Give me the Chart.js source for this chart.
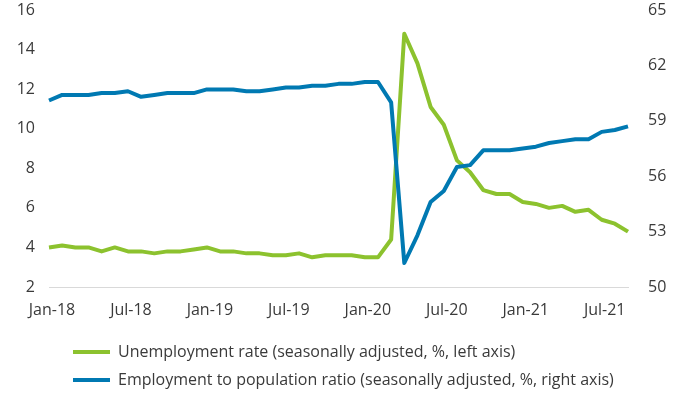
<!DOCTYPE html>
<html>
<head>
<meta charset="utf-8">
<script src="https://cdn.jsdelivr.net/npm/chart.js@4"></script>
<style>
html,body{margin:0;padding:0;background:#fff;}
#wrap{width:689px;height:393px;position:relative;}
</style>
</head>
<body>
<div id="wrap"><canvas id="c" width="689" height="393"></canvas></div>
<script>
const months = ['Jan-18','Feb-18','Mar-18','Apr-18','May-18','Jun-18','Jul-18','Aug-18','Sep-18','Oct-18','Nov-18','Dec-18',
  'Jan-19','Feb-19','Mar-19','Apr-19','May-19','Jun-19','Jul-19','Aug-19','Sep-19','Oct-19','Nov-19','Dec-19',
  'Jan-20','Feb-20','Mar-20','Apr-20','May-20','Jun-20','Jul-20','Aug-20','Sep-20','Oct-20','Nov-20','Dec-20',
  'Jan-21','Feb-21','Mar-21','Apr-21','May-21','Jun-21','Jul-21','Aug-21','Sep-21'];
const unemploymentRate = [4.0,4.1,4.0,4.0,3.8,4.0,3.8,3.8,3.7,3.8,3.8,3.9,
  4.0,3.8,3.8,3.7,3.7,3.6,3.6,3.7,3.5,3.6,3.6,3.6,
  3.5,3.5,4.4,14.8,13.3,11.1,10.2,8.4,7.8,6.9,6.7,6.7,
  6.3,6.2,6.0,6.1,5.8,5.9,5.4,5.2,4.8];
const employmentRatio = [60.1,60.4,60.4,60.4,60.5,60.5,60.6,60.3,60.4,60.5,60.5,60.5,
  60.7,60.7,60.7,60.6,60.6,60.7,60.8,60.8,60.9,60.9,61.0,61.0,
  61.1,61.1,60.0,51.3,52.8,54.6,55.2,56.5,56.6,57.4,57.4,57.4,
  57.5,57.6,57.8,57.9,58.0,58.0,58.4,58.5,58.7];
const xTickLabels = ['Jan-18','Jul-18','Jan-19','Jul-19','Jan-20','Jul-20','Jan-21','Jul-21'];
const leftTicks = [2,4,6,8,10,12,14,16];
const rightTicks = [50,53,56,59,62,65];
const seriesNames = ['Unemployment rate (seasonally adjusted, %, left axis)',
  'Employment to population ratio (seasonally adjusted, %, right axis)'];

const GREEN = '#8CC22E';
const BLUE = '#0079B2';
const TXT = '#3a3a3a';
const FONT = {family: 'Open Sans', size: 16};

const legendShift = {
  id: 'legendShift',
  afterLayout(chart) {
    const lg = chart.legend;
    if (!lg) return;
    const w = lg.right - lg.left;
    lg.left = 61; lg.right = 61 + w;
    const h = lg.bottom - lg.top;
    lg.top = 332; lg.bottom = 332 + h;
  }
};

function fixPad(s) { s.paddingTop = 10; s.paddingBottom = 0; }

new Chart(document.getElementById('c'), {
  type: 'line',
  data: {
    labels: months,
    datasets: [
      {label: seriesNames[0], data: unemploymentRate, yAxisID: 'yL', borderColor: GREEN, backgroundColor: GREEN,
       borderWidth: 4, pointRadius: 0, tension: 0, order: 1, borderCapStyle: 'butt', borderJoinStyle: 'round'},
      {label: seriesNames[1], data: employmentRatio, yAxisID: 'yR', borderColor: BLUE, backgroundColor: BLUE,
       borderWidth: 4, pointRadius: 0, tension: 0, order: 0, borderCapStyle: 'butt', borderJoinStyle: 'round'}
    ]
  },
  options: {
    responsive: false,
    animation: false,
    devicePixelRatio: 1,
    layout: {padding: {top: 0, left: 0, right: 0, bottom: 0}},
    plugins: {
      legend: {
        position: 'bottom',
        align: 'start',
        labels: {
          font: FONT, color: TXT, padding: 12,
          usePointStyle: true, pointStyle: 'line', pointStyleWidth: 37, boxHeight: 4,
          sort: (a, b) => a.datasetIndex - b.datasetIndex
        }
      },
      tooltip: {enabled: false}
    },
    scales: {
      x: {
        type: 'category',
        offset: false,
        grid: {display: false, drawTicks: false},
        border: {display: true, color: '#d9d9d9', width: 1},
        ticks: {
          autoSkip: false, maxRotation: 0, minRotation: 0, padding: 14, labelOffset: 3,
          font: FONT, color: TXT,
          callback: function(v, i) { const l = months[i]; return xTickLabels.includes(l) ? l : ''; }
        },
        afterFit(s) { s.height = 40; s.paddingLeft = 0; s.paddingRight = 0; }
      },
      yL: {
        type: 'linear', position: 'left', min: 2, max: 16,
        grid: {display: false, drawTicks: false},
        border: {display: false},
        afterBuildTicks(s) { s.ticks = leftTicks.map(v => ({value: v})); },
        ticks: {font: FONT, color: TXT, padding: 14},
        afterFit(s) { s.width = 49; fixPad(s); }
      },
      yR: {
        type: 'linear', position: 'right', min: 50, max: 65,
        grid: {display: false, drawTicks: false},
        border: {display: false},
        afterBuildTicks(s) { s.ticks = rightTicks.map(v => ({value: v})); },
        ticks: {font: FONT, color: TXT, padding: 20},
        afterFit(s) { s.width = 61; fixPad(s); }
      }
    }
  },
  plugins: [legendShift]
});
</script>
</body>
</html>
